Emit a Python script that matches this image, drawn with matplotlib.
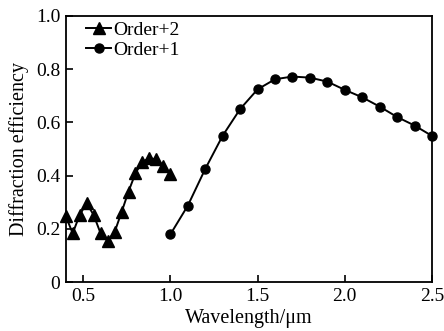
import matplotlib
matplotlib.use("Agg")
import matplotlib.pyplot as plt
from matplotlib.ticker import FixedLocator, FixedFormatter

plt.rcParams['font.family'] = ['Liberation Serif', 'DejaVu Serif']

# Order+2 (triangles)
x_order2 = [0.40, 0.44, 0.48, 0.52, 0.56, 0.60, 0.64, 0.68, 0.72, 0.76, 0.80, 0.84, 0.88, 0.92, 0.96, 1.00]
y_order2 = [0.248, 0.183, 0.252, 0.296, 0.252, 0.183, 0.155, 0.187, 0.262, 0.34, 0.409, 0.452, 0.465, 0.461, 0.437, 0.406]

# Order+1 (circles)
x_order1 = [1.0, 1.1, 1.2, 1.3, 1.4, 1.5, 1.6, 1.7, 1.8, 1.9, 2.0, 2.1, 2.2, 2.3, 2.4, 2.5]
y_order1 = [0.179, 0.287, 0.425, 0.55, 0.65, 0.724, 0.762, 0.772, 0.768, 0.753, 0.722, 0.694, 0.659, 0.62, 0.588, 0.549]

x_ticks = [0.5, 1.0, 1.5, 2.0, 2.5]
x_ticklabels = ["0.5", "1.0", "1.5", "2.0", "2.5"]
y_ticks = [0, 0.2, 0.4, 0.6, 0.8, 1.0]
y_ticklabels = ["0", "0.2", "0.4", "0.6", "0.8", "1.0"]

fig = plt.figure(figsize=(4.44, 3.31), dpi=100)
ax = fig.add_axes([0.148, 0.148, 0.825, 0.804])

ax.plot(x_order2, y_order2, color='black', lw=1.4, marker='^', ms=9, label='Order+2', clip_on=False, zorder=3)
ax.plot(x_order1, y_order1, color='black', lw=1.4, marker='o', ms=6.5, label='Order+1', clip_on=False, zorder=3)

ax.set_xlim(0.4, 2.5)
ax.set_ylim(0, 1.0)
ax.xaxis.set_major_locator(FixedLocator(x_ticks))
ax.xaxis.set_major_formatter(FixedFormatter(x_ticklabels))
ax.yaxis.set_major_locator(FixedLocator(y_ticks))
ax.yaxis.set_major_formatter(FixedFormatter(y_ticklabels))
ax.tick_params(direction='in', length=5, width=1.2, labelsize=14, top=False, right=False, pad=4)
for s in ax.spines.values():
    s.set_linewidth(1.3)

ax.set_xlabel('Wavelength/μm', fontsize=14.5, labelpad=3)
ax.set_ylabel('Diffraction efficiency', fontsize=14.5, labelpad=5)

leg = ax.legend(loc='upper left', bbox_to_anchor=(0.045, 0.995), frameon=False, fontsize=14,
                handlelength=1.3, handletextpad=0.1, borderaxespad=0.0, labelspacing=0.15,
                borderpad=0.2)

fig.savefig('out.png', dpi=100)
